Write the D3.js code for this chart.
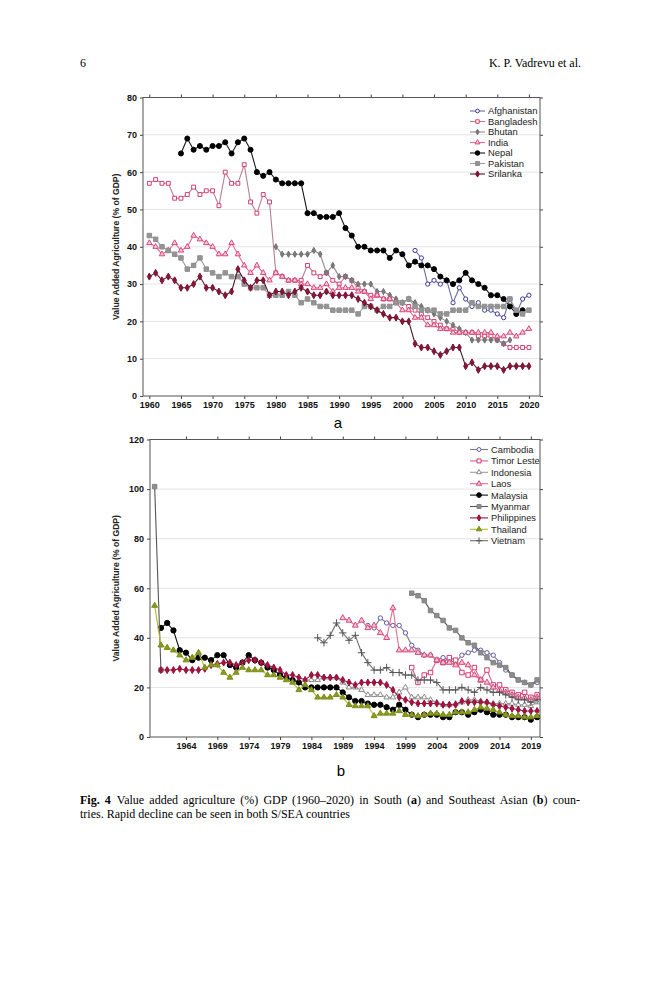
<!DOCTYPE html>
<html>
<head>
<meta charset="utf-8">
<script src="https://cdn.jsdelivr.net/npm/d3@7"></script>
<style>
  body { margin: 0; background: #fff; }
  svg { display: block; }
  .tick text { font-family: "Liberation Sans", Arial, sans-serif; font-weight: bold; fill: #111; }
</style>
</head>
<body>
<svg id="page" width="659" height="1000"></svg>
<script>
// ---- panel a : South Asia (start year + yearly values) ----
const afghanistanStart = 2002;
const afghanistan = [39, 37, 30, 31, 30, 31, 25, 29, 26, 24, 25, 23, 23, 22, 21, 26, 22, 26, 27];
const bangladeshStart = 1960;
const bangladesh = [57, 58, 57, 57, 53, 53, 54, 56, 54, 55,
                    55, 51, 60, 57, 57, 62, 52, 49, 54, 52,
                    33, 32, 31, 31, 31, 35, 33, 32, 33, 31,
                    30, 32, 31, 29, 28, 27, 27, 26, 26, 25,
                    25, 24, 23, 22, 21, 20, 19, 18, 18, 17,
                    17, 17, 16, 16, 16, 15, 14, 13, 13, 13, 13];
const bhutanStart = 1980;
const bhutan = [40, 38, 38, 38, 38, 38, 39, 38, 33, 35,
                32, 32, 31, 30, 30, 30, 28, 28, 27, 26,
                25, 26, 25, 24, 23, 22, 21, 20, 19, 18,
                17, 15, 15, 15, 15, 15, 14, 15];
const indiaStart = 1960;
const india = [41, 40, 38, 39, 41, 39, 40, 43, 42, 41,
               40, 38, 38, 41, 38, 35, 33, 35, 33, 31,
               33, 32, 31, 31, 30, 30, 29, 29, 30, 28,
               29, 29, 29, 28, 28, 26, 27, 26, 26, 25,
               23, 23, 21, 21, 19, 19, 18, 18, 17, 17,
               17, 17, 17, 17, 17, 16, 16, 17, 16, 17, 18];
const nepalStart = 1965;
const nepal = [65, 69, 66, 67, 66,
               67, 67, 68, 65, 68, 69, 66, 60, 59, 60,
               58, 57, 57, 57, 57, 49, 49, 48, 48, 48,
               49, 45, 43, 40, 40, 39, 39, 39, 37, 39,
               38, 35, 36, 35, 35, 34, 32, 31, 30, 31,
               33, 31, 30, 29, 27, 27, 26, 24, 22, 23];
const pakistanStart = 1960;
const pakistan = [43, 42, 40, 39, 38, 37, 34, 35, 37, 34,
                  33, 32, 33, 32, 32, 30, 29, 29, 29, 27,
                  27, 27, 28, 27, 25, 26, 25, 24, 24, 23,
                  23, 23, 23, 22, 24, 24, 23, 24, 24, 25,
                  25, 26, 24, 23, 23, 23, 22, 22, 23, 23,
                  23, 25, 24, 24, 24, 24, 24, 26, 23, 22, 23];
const srilankaStart = 1960;
const srilanka = [32, 33, 31, 32, 31, 29, 29, 30, 32, 29,
                  29, 28, 27, 28, 34, 31, 29, 31, 31, 27,
                  28, 28, 27, 28, 29, 28, 27, 27, 28, 27,
                  27, 27, 27, 26, 25, 24, 23, 22, 21, 21,
                  20, 20, 14, 13, 13, 12, 11, 12, 13, 13,
                  8, 9, 7, 8, 8, 8, 7, 8, 8, 8, 8];

// ---- panel b : Southeast Asia ----
const cambodiaStart = 1993;
const cambodia = [45, 44, 48, 46, 45, 45, 42,
                  37, 35, 33, 33, 31, 32, 31, 30, 33, 34,
                  35, 35, 34, 33, 30, 27, 25, 23, 22, 21, 22];
const timorLesteStart = 2000;
const timorLeste = [28, 22, 25, 26, 31, 30, 32, 31, 26, 25,
                    28, 23, 27, 21, 21, 19, 18, 17, 18, 16, 17];
const indonesiaStart = 1983;
const indonesia = [23, 23, 23, 24, 24, 24, 22,
                   20, 20, 19, 17, 17, 17, 16, 16, 18, 20,
                   16, 16, 16, 15, 14, 13, 13, 13.5, 14, 15,
                   15, 14.5, 14, 13.5, 13.5, 13.5, 13.5, 13, 13, 12.5, 14];
const laosStart = 1989;
const laos = [48,
              47, 45, 47, 44, 45, 42, 40, 52, 35, 35,
              35, 34, 33, 33, 31, 30, 30, 29, 30, 29,
              25, 23, 22, 20, 19, 18, 17, 16, 16, 15, 16];
const malaysiaStart = 1960;
const malaysia = [44, 46, 43, 35, 34, 31, 32, 32, 31, 33,
                  33, 29, 28, 30, 33, 31, 30, 28, 27, 25,
                  24, 23, 22, 20, 20, 20, 20, 20, 20, 18,
                  16, 14.5, 14.5, 13.5, 13, 13, 12, 11, 13, 11,
                  9, 8, 9, 9, 9, 8, 8, 10, 10, 9,
                  10, 11, 10, 9, 9, 9, 8, 8, 8, 7, 8];
const myanmarEarlyStart = 1959;
const myanmarEarly = [101, 27];
const myanmarStart = 2000;
const myanmar = [58, 57, 55, 51, 49, 47, 44, 43, 40, 38,
                 37, 34, 32, 30, 29, 28, 25, 23, 22, 21, 23];
const philippinesStart = 1960;
const philippines = [27, 27, 27, 27.5, 27, 27, 27, 27.5, 29, 29.5,
                     30, 30, 29, 30, 31, 31, 30, 29, 28, 27,
                     25, 25, 24, 23, 25, 25, 24, 24, 24, 23,
                     22, 21, 22, 22, 22, 22, 21, 19, 16, 15,
                     14, 13.5, 13.5, 13.5, 13.5, 13, 13, 13, 14.5, 14,
                     14, 14, 14, 13, 12.5, 12, 11.5, 11, 10.5, 10.5, 10.5];
const thailandStart = 1959;
const thailand = [53,
                  37, 36, 35, 33, 31, 32, 34, 28, 29, 29,
                  26, 24, 26, 28, 27, 27, 27, 25, 25, 24,
                  23, 22, 19, 21, 19, 16, 16, 16, 17, 16,
                  13, 12.5, 12.5, 12.5, 8.5, 9.5, 9.5, 9.5, 10.5, 9,
                  9, 8.5, 9, 9.5, 9.5, 9, 9, 10, 10, 10,
                  11, 12, 11.5, 11, 10, 9, 8.5, 8.5, 8, 8, 8.5];
const vietnamStart = 1985;
const vietnam = [40, 38, 41, 46, 42,
                 39, 41, 34, 30, 27, 27, 28, 26, 26, 25,
                 25, 23, 23, 23, 22, 19, 19, 19, 20, 19,
                 18, 20, 19, 18, 18, 17, 16, 15, 15, 14, 15];

// tick labels
const southXTicks = d3.range(1960, 2021, 5);
const southYTicks = d3.range(0, 81, 10);
const seaXTicks = d3.range(1964, 2020, 5);
const seaYTicks = d3.range(0, 121, 20);

const pts = (start, vals) => vals.map((v, i) => ({ year: start + i, value: v }));

const FONT = '"Liberation Sans", Arial, sans-serif';
const SERIF = '"Liberation Serif", "Times New Roman", serif';

const southSeries = [
  { name: "Afghanistan", segs: [pts(afghanistanStart, afghanistan)], line: "#6a6aa6", stroke: "#3a3a98", fill: "#fff", sym: d3.symbolCircle, size: 14 },
  { name: "Bangladesh", segs: [pts(bangladeshStart, bangladesh)], line: "#b77f8d", stroke: "#d33f70", fill: "#fff", sym: d3.symbolSquare, size: 15 },
  { name: "Bhutan", segs: [pts(bhutanStart, bhutan)], line: "#8c8c8c", stroke: "#707070", fill: "#7c7c7c", sym: d3.symbolDiamond, size: 11 },
  { name: "India", segs: [pts(indiaStart, india)], line: "#e06f8f", stroke: "#d9457a", fill: "#f7d0dc", sym: d3.symbolTriangle, size: 13 },
  { name: "Nepal", segs: [pts(nepalStart, nepal)], line: "#1a1a1a", stroke: "#000", fill: "#000", sym: d3.symbolCircle, size: 20 },
  { name: "Pakistan", segs: [pts(pakistanStart, pakistan)], line: "#9d9d9d", stroke: "#8f8f8f", fill: "#949494", sym: d3.symbolSquare, size: 20 },
  { name: "Srilanka", segs: [pts(srilankaStart, srilanka)], line: "#4b1b2a", stroke: "#7a1032", fill: "#8c1438", sym: d3.symbolDiamond, size: 14 }
];

const seaSeries = [
  { name: "Cambodia", segs: [pts(cambodiaStart, cambodia)], line: "#7c7c7c", stroke: "#6657a8", fill: "#fff", sym: d3.symbolCircle, size: 15 },
  { name: "Timor Leste", segs: [pts(timorLesteStart, timorLeste)], line: "#d8608a", stroke: "#d63a6e", fill: "#fff", sym: d3.symbolSquare, size: 20 },
  { name: "Indonesia", segs: [pts(indonesiaStart, indonesia)], line: "#9c9c9c", stroke: "#8a8a8a", fill: "#fff", sym: d3.symbolTriangle, size: 13 },
  { name: "Laos", segs: [pts(laosStart, laos)], line: "#e0708e", stroke: "#d8487a", fill: "#f5c3d2", sym: d3.symbolTriangle, size: 15 },
  { name: "Malaysia", segs: [pts(malaysiaStart, malaysia)], line: "#111", stroke: "#000", fill: "#000", sym: d3.symbolCircle, size: 22 },
  { name: "Myanmar", segs: [pts(myanmarEarlyStart, myanmarEarly), pts(myanmarStart, myanmar)], line: "#555", stroke: "#858585", fill: "#8c8c8c", sym: d3.symbolSquare, size: 20 },
  { name: "Philippines", segs: [pts(philippinesStart, philippines)], line: "#8e1a3c", stroke: "#9a0f3e", fill: "#a8123f", sym: d3.symbolDiamond, size: 14 },
  { name: "Thailand", segs: [pts(thailandStart, thailand)], line: "#b4b82c", stroke: "#7b8d1a", fill: "#889a22", sym: d3.symbolTriangle, size: 15 },
  { name: "Vietnam", segs: [pts(vietnamStart, vietnam)], line: "#6e6e6e", stroke: "#555", fill: "none", sym: d3.symbolPlus || d3.symbolCross, size: 20 }
];

const svg = d3.select("#page");

// header
svg.append("text").attr("x", 80).attr("y", 67).attr("font-family", SERIF).attr("font-size", 12).text("6");
svg.append("text").attr("x", 581).attr("y", 67).attr("text-anchor", "end").attr("font-family", SERIF).attr("font-size", 12).text("K. P. Vadrevu et al.");

function drawPanel(cfg) {
  const g = svg.append("g");
  const x = d3.scaleLinear().domain(cfg.xDomain).range([cfg.left, cfg.right]);
  const y = d3.scaleLinear().domain(cfg.yDomain).range([cfg.bottom, cfg.top]);

  // grid
  g.append("g").selectAll("line").data(cfg.yTicks.slice(1, -1)).join("line")
    .attr("x1", cfg.left).attr("x2", cfg.right)
    .attr("y1", d => y(d)).attr("y2", d => y(d))
    .attr("stroke", "#e4e4e4").attr("stroke-width", 1);

  // axes
  const ax = g.append("g").attr("transform", `translate(0,${cfg.bottom})`)
    .call(d3.axisBottom(x).tickValues(cfg.xTicks).tickSize(3).tickPadding(3).tickFormat(d3.format("d")));
  const ay = g.append("g").attr("transform", `translate(${cfg.left},0)`)
    .call(d3.axisLeft(y).tickValues(cfg.yTicks).tickSize(3).tickPadding(3));
  const at = g.append("g").attr("transform", `translate(0,${cfg.top})`)
    .call(d3.axisTop(x).tickValues(cfg.xTicks).tickSize(3).tickFormat(""));
  const ar = g.append("g").attr("transform", `translate(${cfg.right},0)`)
    .call(d3.axisRight(y).tickValues(cfg.yTicks).tickSize(3).tickFormat(""));
  [ax, ay, at, ar].forEach(a => {
    a.select(".domain").remove();
    a.selectAll(".tick line").attr("stroke", "#444");
    a.selectAll(".tick text").attr("font-size", cfg.tickFont).attr("font-family", FONT);
  });

  // frame
  g.append("rect").attr("x", cfg.left).attr("y", cfg.top)
    .attr("width", cfg.right - cfg.left).attr("height", cfg.bottom - cfg.top)
    .attr("fill", "none").attr("stroke", "#555").attr("stroke-width", 1);

  // y title
  g.append("text")
    .attr("transform", `translate(${cfg.titleX},${(cfg.top + cfg.bottom) / 2}) rotate(-90)`)
    .attr("text-anchor", "middle").attr("font-family", FONT).attr("font-size", 8.6)
    .attr("font-weight", "bold").attr("fill", "#222")
    .text("Value Added Agriculture (% of GDP)");

  // series
  const line = d3.line().x(d => x(d.year)).y(d => y(d.value));
  cfg.series.forEach(s => {
    const sg = g.append("g");
    s.segs.forEach(seg => {
      sg.append("path").datum(seg).attr("d", line)
        .attr("fill", "none").attr("stroke", s.line).attr("stroke-width", 1.1);
    });
    const sym = d3.symbol().type(s.sym).size(s.size);
    sg.selectAll("path.m").data(s.segs.flat()).join("path").attr("class", "m")
      .attr("transform", d => `translate(${x(d.year)},${y(d.value)})`)
      .attr("d", sym)
      .attr("fill", s.fill).attr("stroke", s.stroke).attr("stroke-width", 1);
  });

  // legend
  const lg = g.append("g");
  cfg.series.forEach((s, i) => {
    const ly = cfg.legendY + i * cfg.legendStep;
    lg.append("line").attr("x1", cfg.legendX).attr("x2", cfg.legendX + cfg.legendLen)
      .attr("y1", ly).attr("y2", ly).attr("stroke", s.line).attr("stroke-width", 1.1);
    lg.append("path").attr("transform", `translate(${cfg.legendX + cfg.legendLen / 2},${ly})`)
      .attr("d", d3.symbol().type(s.sym).size(s.size * 0.8))
      .attr("fill", s.fill).attr("stroke", s.stroke).attr("stroke-width", 1);
    lg.append("text").attr("x", cfg.legendX + cfg.legendLen + 3).attr("y", ly + 3.4)
      .attr("font-family", FONT).attr("font-size", cfg.legendFont).attr("fill", "#222")
      .text(s.name);
  });

  // panel letter
  svg.append("text").attr("x", cfg.letterX).attr("y", cfg.letterY)
    .attr("text-anchor", "middle").attr("font-family", FONT).attr("font-size", 15)
    .text(cfg.letter);
}

drawPanel({
  series: southSeries, xDomain: [1959, 2021.75], yDomain: [0, 80],
  left: 143, right: 540, top: 97.5, bottom: 396,
  xTicks: southXTicks, yTicks: southYTicks, tickFont: 9,
  titleX: 119, legendX: 470, legendY: 111, legendStep: 10.5, legendLen: 15, legendFont: 9.4,
  letter: "a", letterX: 338, letterY: 428
});

drawPanel({
  series: seaSeries, xDomain: [1958.26, 2020.46], yDomain: [0, 120],
  left: 150, right: 540, top: 439.5, bottom: 737,
  xTicks: seaXTicks, yTicks: seaYTicks, tickFont: 9,
  titleX: 119, legendX: 470, legendY: 449.5, legendStep: 11.4, legendLen: 18, legendFont: 9.3,
  letter: "b", letterX: 341, letterY: 776
});

// caption: first line justified to 500px by widening word gaps
const cap = svg.append("text").attr("x", 80).attr("y", 804)
  .attr("font-family", SERIF).attr("font-size", 12);
cap.append("tspan").attr("font-weight", "bold").text("Fig. 4");
cap.append("tspan").text("\u2002Value added agriculture (%) GDP (1960\u20132020) in South (");
cap.append("tspan").attr("font-weight", "bold").text("a");
cap.append("tspan").text(") and Southeast Asian (");
cap.append("tspan").attr("font-weight", "bold").text("b");
cap.append("tspan").text(") coun-");
const gaps = cap.text().split(" ").length - 1;
const natural = cap.node().getComputedTextLength();
cap.attr("word-spacing", (500 - natural) / gaps);
svg.append("text").attr("x", 80).attr("y", 818)
  .attr("font-family", SERIF).attr("font-size", 12)
  .text("tries. Rapid decline can be seen in both S/SEA countries");
</script>
</body>
</html>
